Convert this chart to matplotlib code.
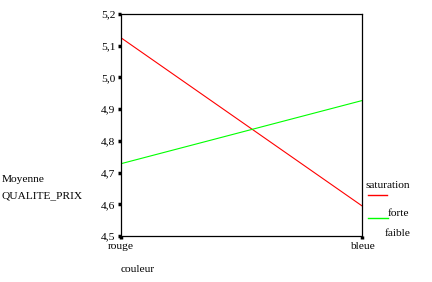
import matplotlib
matplotlib.use("Agg")
import matplotlib.pyplot as plt
from matplotlib.ticker import FuncFormatter, FixedLocator

categories = ["rouge", "bleue"]
forte = [5.125, 4.595]
faible = [4.728, 4.927]
yticks = [4.5, 4.6, 4.7, 4.8, 4.9, 5.0, 5.1, 5.2]

plt.rcParams['font.family'] = ['Liberation Serif', 'DejaVu Serif']
fs = 8.2
fig = plt.figure(figsize=(4.32, 2.82), dpi=100)
ax = fig.add_axes([121/432, 1-236/282, (362-121)/432, (236-14)/282])
x = list(range(len(categories)))
ax.plot(x, forte, color='#ff0000', lw=0.8)
ax.plot(x, faible, color='#00ff00', lw=0.8)
ax.set_xlim(0, 1)
ax.set_ylim(4.5, 5.2)
ax.set_xticks(x)
ax.set_xticklabels(categories, fontsize=fs)
ax.yaxis.set_major_locator(FixedLocator(yticks))
ax.yaxis.set_major_formatter(FuncFormatter(lambda v, p: f"{v:.1f}".replace('.', ',')))
ax.tick_params(axis='both', direction='out', length=2.5, width=2.5, labelsize=fs, pad=1.5)
for s in ax.spines.values():
    s.set_linewidth(0.9)
    s.set_color('black')

fig.text(2/432, 1-180/282, "Moyenne", fontsize=fs, va='center', ha='left')
fig.text(2/432, 1-196/282, "QUALITE_PRIX", fontsize=fs, va='center', ha='left')
fig.text(121/432, 1-270/282, "couleur", fontsize=fs, va='center', ha='left')

fig.text(365/432, 1-185/282, "saturation", fontsize=fs, va='center', ha='left')
fig.add_artist(plt.Line2D([368/432, 387/432], [1-195/282, 1-195/282], color='#ff0000', lw=1.0))
fig.add_artist(plt.Line2D([368/432, 388/432], [1-218/282, 1-218/282], color='#00ff00', lw=1.0))
fig.text(388/432, 1-214/282, "forte", fontsize=fs, va='center', ha='left')
fig.text(385/432, 1-233/282, "faible", fontsize=fs, va='center', ha='left')

fig.savefig("out.png", dpi=100)
